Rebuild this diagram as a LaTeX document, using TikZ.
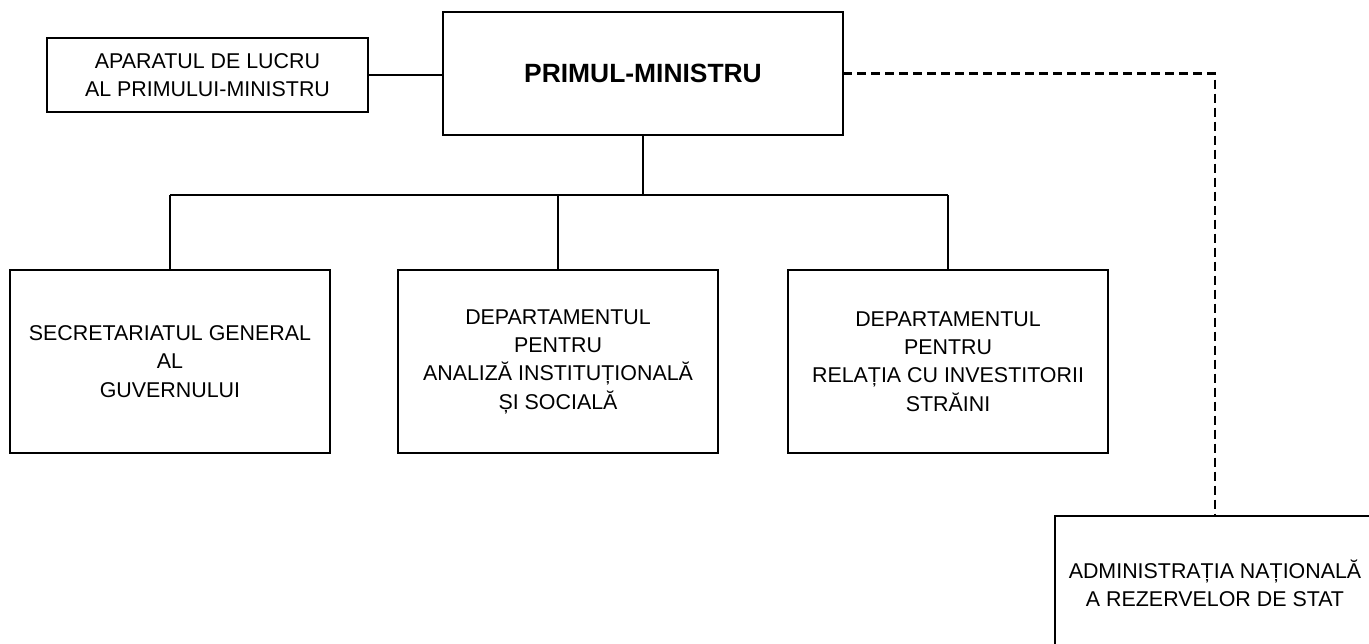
\documentclass[tikz,border=0pt]{standalone}
\usepackage{fontspec}
\setmainfont{Liberation Sans}
\begin{document}
\begin{tikzpicture}[%
  x=0.5pt, y=-0.5pt,
  unit/.style={draw, line width=0.8pt, inner sep=0pt, outer sep=0pt, align=center,
    minimum width=160pt, minimum height=91.5pt, font=\fontsize{10.7}{14.2}\selectfont},
  chief/.style={unit, minimum width=200pt, minimum height=61.5pt,
    font=\fontsize{13.2}{16}\selectfont\bfseries},
  link/.style={line width=0.8pt},
  dlink/.style={line width=1.1pt, dash pattern=on 4.5pt off 2.5pt}]
\useasboundingbox (0,0) rectangle (1369,643);
\clip (0,0) rectangle (1369,643);
% top level
\node[chief] (pm) at (643,73.5) {PRIMUL-MINISTRU};
\node[unit, minimum width=160.5pt, minimum height=37pt] (apl) at (207.5,75)
  {APARATUL DE LUCRU\\AL PRIMULUI-MINISTRU};
% subordinate units
\node[unit] (sg) at (170,361.5) {SECRETARIATUL GENERAL\\AL\\GUVERNULUI};
\node[unit] (da) at (558,361.5) {DEPARTAMENTUL\\PENTRU\\ANALIZĂ INSTITUȚIONALĂ\\ȘI SOCIALĂ};
\node[unit] (dr) at (948,361.5) {DEPARTAMENTUL\\PENTRU\\RELAȚIA CU INVESTITORII\\STRĂINI};
\node[unit, minimum height=67pt] (anrs) at (1215,583)
  {ADMINISTRAȚIA NAȚIONALĂ\\A REZERVELOR DE STAT};
% connectors
\coordinate (bar) at (643,195);
\draw[link] (apl.east) -- (apl.east -| pm.west);
\draw[link] (pm.south) -- (bar);
\draw[link] (sg.north |- bar) -- (dr.north |- bar);
\foreach \b in {sg,da,dr}
  \draw[link] (\b.north) -- (\b.north |- bar);
\draw[dlink] (pm.east) -| (anrs.north);
\end{tikzpicture}
\end{document}
